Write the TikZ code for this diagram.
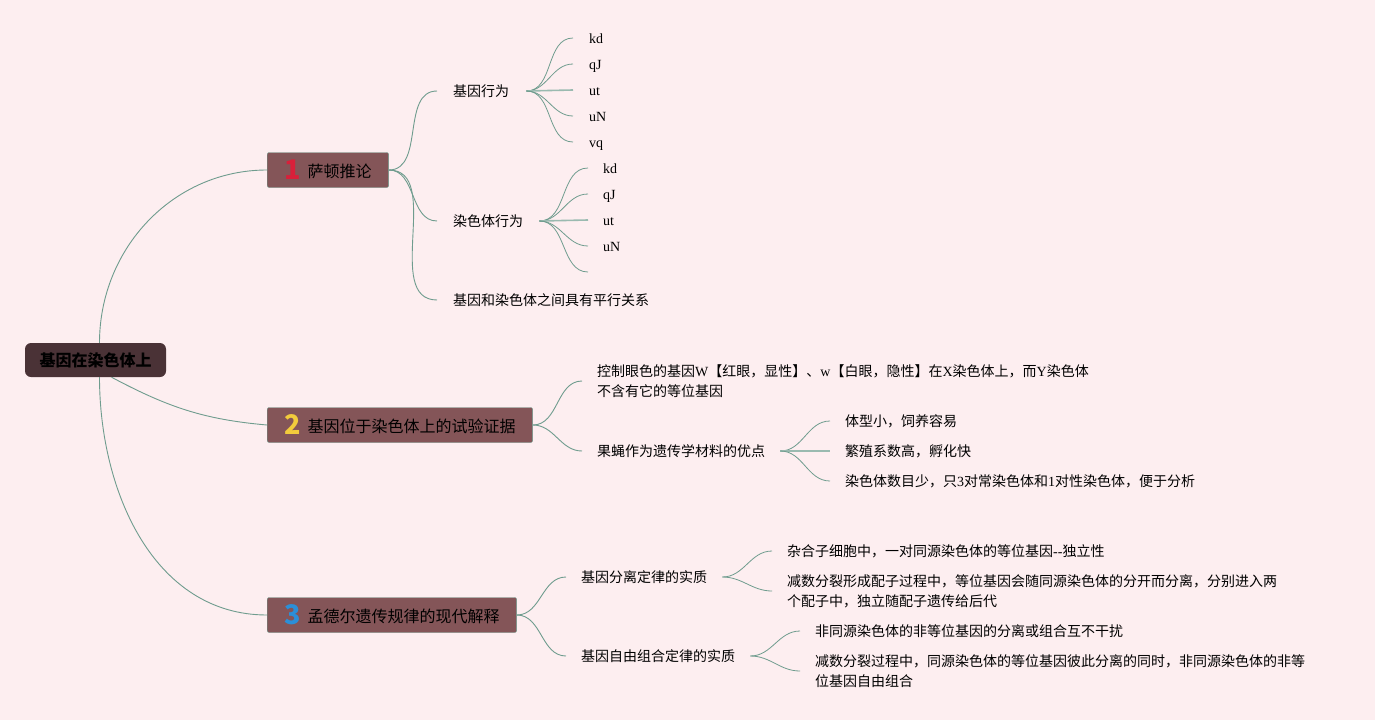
\documentclass[tikz,border=0pt]{standalone}
\usepackage{fontspec}
\setmainfont{Noto Sans CJK SC}
\newfontfamily\lat{Liberation Serif}
\usetikzlibrary{positioning}
\definecolor{paper}{HTML}{FDEEF0}
\definecolor{branch}{HTML}{6F9C8E}
\definecolor{topicfill}{HTML}{845558}
\definecolor{rootfill}{HTML}{4A3236}
\definecolor{numred}{HTML}{D8203A}
\definecolor{numyellow}{HTML}{F2CB3C}
\definecolor{numblue}{HTML}{2B8FD8}
\newcommand{\topicnum}[2]{{\fontsize{27}{27}\selectfont\bfseries\color{#1}\raisebox{-2pt}{#2}}\hspace{7pt}}

\begin{document}
\begin{tikzpicture}[x=1pt, y=-1pt,
  root/.style={fill=rootfill, rounded corners=6pt, minimum width=141pt, minimum height=34pt,
               inner sep=0pt, font=\fontsize{16}{20}\selectfont\bfseries},
  topic/.style={fill=topicfill, draw=branch, rounded corners=2pt, anchor=west,
                minimum height=35pt, inner xsep=17pt, inner ysep=0pt, font=\fontsize{16}{20}\selectfont},
  sub/.style={anchor=west, inner sep=0pt, align=left, font=\fontsize{14}{20}\selectfont},
  leaf/.style={anchor=west, inner sep=0pt, text height=13pt, text depth=2pt, font=\fontsize{14}{20}\selectfont\lat},
  br/.style={draw=branch, line width=0.9pt},
  fan/.style={br, line width=0.8pt}
]
\fill[paper] (0,0) rectangle (1375,720);
\useasboundingbox (0,0) rectangle (1375,720);

\node[root] (root) at (95.5,360) {基因在染色体上};

\node[topic] (t1) at (267,170) {\topicnum{numred}{1}萨顿推论};
\node[topic] (t2) at (267,425) {\topicnum{numyellow}{2}基因位于染色体上的试验证据};
\node[topic] (t3) at (267,615) {\topicnum{numblue}{3}孟德尔遗传规律的现代解释};

\draw[br] ([xshift=4pt]root.north) to[out=90, in=180] (t1.west);
\draw[br] ([xshift=16pt]root.south) to[out=-28, in=175] (t2.west);
\draw[br] ([xshift=4pt]root.south) to[out=-90, in=180] (t3.west);

\node[sub] (gene) at (453,91) {基因行为};
\node[sub] (chrom) at (453,221) {染色体行为};
\node[sub] (para) at (453,300) {基因和染色体之间具有平行关系};
\draw[br] (t1.east) to[out=0, in=180] ([xshift=-16pt]gene.west);
\draw[br] (t1.east) to[out=0, in=180] ([xshift=-16pt]chrom.west);
\draw[br] (t1.east) to[out=0, in=180] ([xshift=-16pt]para.west);

\node[leaf] (g1) at (589,38) {kd};
\node[leaf] (g2) at (589,64) {qJ};
\node[leaf] (g3) at (589,90) {ut};
\node[leaf] (g4) at (589,116) {uN};
\node[leaf] (g5) at (589,142) {vq};
\draw[fan] ([xshift=17pt]gene.east) to[out=0, in=180] ([xshift=-16pt]g1.west);
\draw[fan] ([xshift=17pt]gene.east) to[out=0, in=180] ([xshift=-16pt]g2.west);
\draw[fan, line width=1.6pt, draw=branch!70] ([xshift=17pt]gene.east) -- ([xshift=-16pt]g3.west);
\draw[fan] ([xshift=17pt]gene.east) to[out=0, in=180] ([xshift=-16pt]g4.west);
\draw[fan] ([xshift=17pt]gene.east) to[out=0, in=180] ([xshift=-16pt]g5.west);

\node[leaf] (c1) at (603,168) {kd};
\node[leaf] (c2) at (603,194) {qJ};
\node[leaf] (c3) at (603,220) {ut};
\node[leaf] (c4) at (603,246) {uN};
\coordinate (c5) at (603,272);
\draw[fan] ([xshift=16pt]chrom.east) to[out=0, in=180] ([xshift=-15pt]c1.west);
\draw[fan] ([xshift=16pt]chrom.east) to[out=0, in=180] ([xshift=-15pt]c2.west);
\draw[fan, line width=1.6pt, draw=branch!70] ([xshift=16pt]chrom.east) -- ([xshift=-15pt]c3.west);
\draw[fan] ([xshift=16pt]chrom.east) to[out=0, in=180] ([xshift=-15pt]c4.west);
\draw[fan] ([xshift=16pt]chrom.east) to[out=0, in=180] ([xshift=-15pt]c5);

\node[sub] (eye) at (597,381) {控制眼色的基因{\lat W}【红眼，显性】、{\lat w}【白眼，隐性】在{\lat X}染色体上，而{\lat Y}染色体\\不含有它的等位基因};
\node[sub] (fly) at (597,451) {果蝇作为遗传学材料的优点};
\draw[br] (t2.east) to[out=0, in=180] ([xshift=-15pt]eye.west);
\draw[br] (t2.east) to[out=0, in=180] ([xshift=-15pt]fly.west);

\node[sub] (f1) at (845,421) {体型小，饲养容易};
\node[sub] (f2) at (845,451) {繁殖系数高，孵化快};
\node[sub] (f3) at (845,481) {染色体数目少，只{\lat 3}对常染色体和{\lat 1}对性染色体，便于分析};
\draw[fan] ([xshift=15pt]fly.east) to[out=0, in=180] ([xshift=-15pt]f1.west);
\draw[fan, line width=1.6pt, draw=branch!70] ([xshift=15pt]fly.east) -- ([xshift=-15pt]f2.west);
\draw[fan] ([xshift=15pt]fly.east) to[out=0, in=180] ([xshift=-15pt]f3.west);

\node[sub] (sep) at (581,577) {基因分离定律的实质};
\node[sub] (ind) at (581,656) {基因自由组合定律的实质};
\draw[br] (t3.east) to[out=0, in=180] ([xshift=-15pt]sep.west);
\draw[br] (t3.east) to[out=0, in=180] ([xshift=-15pt]ind.west);

\node[sub] (s1) at (787,551) {杂合子细胞中，一对同源染色体的等位基因{\lat -{}-}独立性};
\node[sub] (s2) at (787,591) {减数分裂形成配子过程中，等位基因会随同源染色体的分开而分离，分别进入两\\个配子中，独立随配子遗传给后代};
\draw[fan] ([xshift=15pt]sep.east) to[out=0, in=180] ([xshift=-15pt]s1.west);
\draw[fan] ([xshift=15pt]sep.east) to[out=0, in=180] ([xshift=-15pt]s2.west);

\node[sub] (i1) at (815,631) {非同源染色体的非等位基因的分离或组合互不干扰};
\node[sub] (i2) at (815,671) {减数分裂过程中，同源染色体的等位基因彼此分离的同时，非同源染色体的非等\\位基因自由组合};
\draw[fan] ([xshift=15pt]ind.east) to[out=0, in=180] ([xshift=-15pt]i1.west);
\draw[fan] ([xshift=15pt]ind.east) to[out=0, in=180] ([xshift=-15pt]i2.west);
\end{tikzpicture}
\end{document}
